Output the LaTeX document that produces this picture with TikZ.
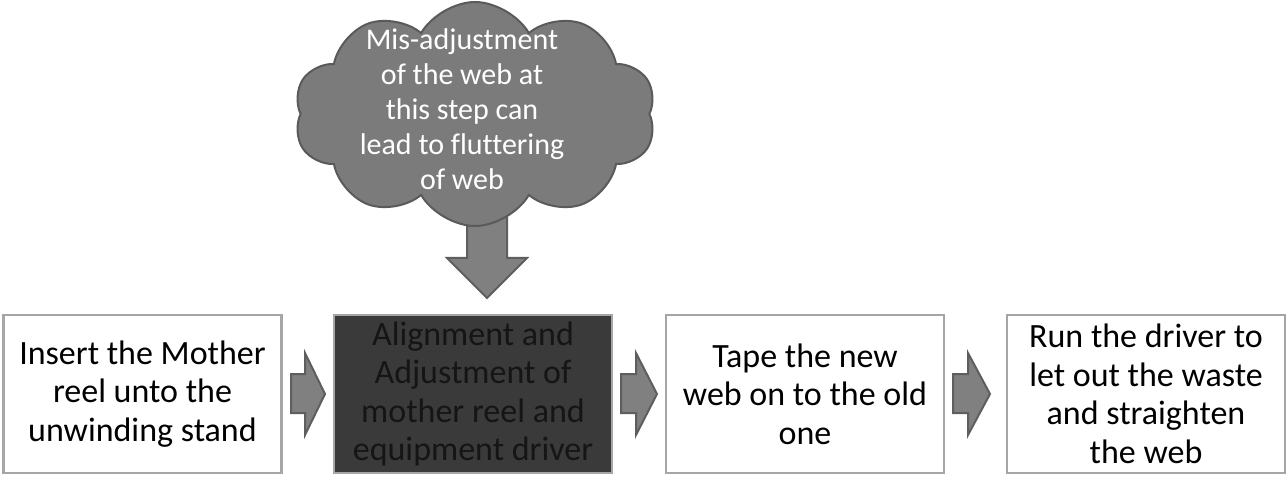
\documentclass[tikz,border=0pt]{standalone}
\usepackage{fontspec}
\setmainfont{Carlito}[Ligatures=NoCommon]
\usetikzlibrary{shapes.symbols}
\definecolor{boxline}{HTML}{A6A6A6}
\definecolor{darkfill}{HTML}{3A3A3A}
\definecolor{darktext}{HTML}{151515}
\definecolor{cloudfill}{HTML}{7B7B7B}
\definecolor{cloudline}{HTML}{5A5A5A}
\definecolor{arrowfill}{HTML}{808080}
\definecolor{arrowline}{HTML}{5E5E5E}
\tikzset{
  stepbox/.style={draw=boxline, line width=2.5pt, fill=white, minimum width=278pt, minimum height=158pt, align=center, inner sep=0pt, font=\fontsize{34}{38.5}\selectfont, text=black},
  darkbox/.style={stepbox, fill=darkfill, text=darktext},
  blockarrow/.style={draw=arrowline, fill=arrowfill, line width=2pt, line join=miter},
}
\begin{document}
\begin{tikzpicture}[x=1pt,y=-1pt]
\useasboundingbox (0,0) rectangle (1287,478);
% boxes
\node[stepbox] (b1) at (142.5,394) {Insert the Mother\\reel unto the\\unwinding stand};
\node[darkbox] (b2) at (473,394) {Alignment and\\Adjustment of\\mother reel and\\equipment driver};
\node[stepbox] (b3) at (805,394) {Tape the new\\web on to the old\\one};
\node[stepbox] (b4) at (1146,394) {Run the driver to\\let out the waste\\and straighten\\the web};
% block arrows
\draw[blockarrow] (291,374) -- (305,374) -- (305,353) -- (325,394) -- (305,435) -- (305,413) -- (291,413) -- cycle;
\draw[blockarrow] (621,374) -- (636,374) -- (636,353) -- (657,394) -- (636,435) -- (636,413) -- (621,413) -- cycle;
\draw[blockarrow] (953,374) -- (968,374) -- (968,353) -- (990,394) -- (968,435) -- (968,413) -- (953,413) -- cycle;
% down arrow
\draw[blockarrow] (467,215) -- (507,215) -- (507,258) -- (527,258) -- (487,298) -- (447,258) -- (467,258) -- cycle;
% cloud
\node[cloud, cloud puffs=10, cloud puff arc=120, aspect=1.6, minimum width=362pt, minimum height=224pt, fill=cloudfill, draw=cloudline, line width=2pt] (cloud) at (475,114) {};
\node[align=center, text=white, font=\fontsize{30}{35}\selectfont] (ctext) at (462,109) {Mis-adjustment\\of the web at\\this step can\\lead to fluttering\\of web};
\end{tikzpicture}
\end{document}
